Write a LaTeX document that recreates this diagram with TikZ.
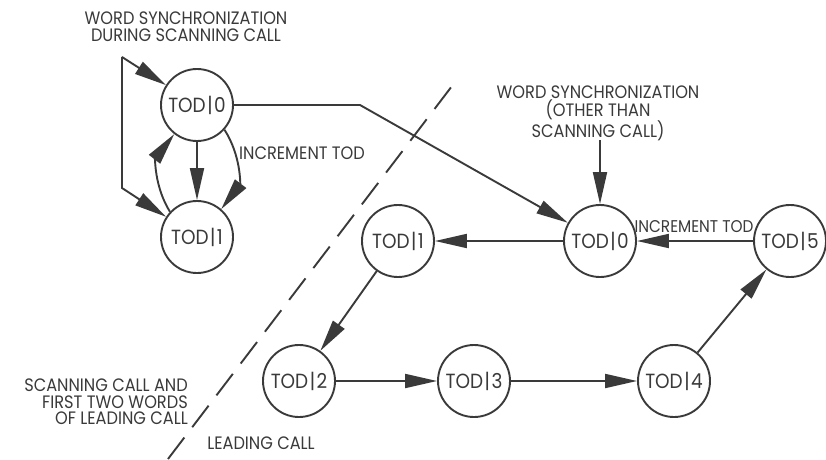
\documentclass[tikz,border=0pt]{standalone}
\usepackage{fontspec}
\setmainfont{Poppins}[FakeStretch=0.9]
\usetikzlibrary{arrows.meta}
\definecolor{ink}{HTML}{3A3A3A}
\newcommand\todlabel[1]{TOD\kern1.5pt|\kern1.5pt#1}
\begin{document}
\begin{tikzpicture}[x=1pt,y=1pt,
  state/.style={circle, draw=ink, line width=1.9pt, minimum size=72pt,
    inner sep=0pt, text=ink, font=\fontsize{20.5}{20.5}\selectfont},
  arr/.style={draw=ink, line width=1.9pt, line join=miter,
    -{Triangle[length=32pt,width=14pt]}},
  lbl/.style={text=ink, font=\fontsize{18}{16.7}\selectfont, inner sep=0pt},
  divider/.style={draw=ink, line width=1.9pt, dash pattern=on 27pt off 13pt}]
\useasboundingbox (0,0) rectangle (826,459);

% boundary between the two phases
\draw[divider] (168,0) -- (452,373);

% states of the scanning call
\node[state] (A0) at (197,354) {\todlabel{0}};
\node[state] (A1) at (197,222) {\todlabel{1}};

% states of the leading call
\node[state] (B1) at (398,218) {\todlabel{1}};
\node[state] (B0) at (600,218) {\todlabel{0}};
\node[state] (B5) at (790,218) {\todlabel{5}};
\node[state] (B2) at (299,78) {\todlabel{2}};
\node[state] (B3) at (474,78) {\todlabel{3}};
\node[state] (B4) at (674,78) {\todlabel{4}};

% labels
\node[lbl, align=center] (sync1) at (186,432)
  {WORD SYNCHRONIZATION\\DURING SCANNING CALL};
\node[lbl, align=center] (sync2) at (598,346)
  {WORD SYNCHRONIZATION\\(OTHER THAN\\SCANNING CALL)};
\node[lbl, anchor=west] (inc1) at (239,306) {INCREMENT TOD};
\node[lbl, font=\fontsize{17}{17}\selectfont] (inc2) at (694,232) {INCREMENT TOD};
\node[lbl, align=right, anchor=east] (scan) at (188,57)
  {SCANNING CALL AND\\FIRST TWO WORDS\\OF LEADING CALL};
\node[lbl] (lead) at (261,16) {LEADING CALL};

% synchronization loop on the left
\coordinate (L0) at (122,402);
\coordinate (L1) at (122,271);
\draw[arr] (L0) -- (A0);
\draw[arr] (L0) -- (L1) -- (A1);

% transitions between the scanning-call states
\draw[arr] (A0) -- (A1);
\draw[arr] (A1.137) to[bend left=35] (A0.232);
\draw[arr] (A0.-42) to[bend left=35] (A1.49);

% hand-over to the leading call
\coordinate (K) at (360,354);
\draw[arr] (A0.east) -- (K) -- (B0);

% synchronization from outside the scanning call
\path (B0) ++(0,101) coordinate (W);
\draw[arr] (W) -- (B0);

% leading-call cycle
\draw[arr] (B5) -- (B0);
\draw[arr] (B0) -- (B1);
\draw[arr] (B1) -- (B2);
\draw[arr] (B2) -- (B3);
\draw[arr] (B3) -- (B4);
\draw[arr] (B4) -- (B5);
\end{tikzpicture}
\end{document}
